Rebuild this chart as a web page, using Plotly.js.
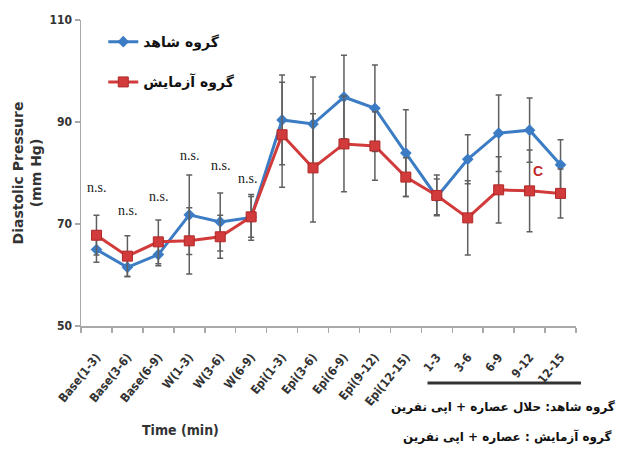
<!DOCTYPE html>
<html>
<head>
<meta charset="utf-8">
<script src="https://cdn.plot.ly/plotly-3.0.1.min.js"></script>
<style>
  html, body { margin: 0; padding: 0; background: #ffffff; }
  #chart { width: 627px; height: 463px; }
</style>
</head>
<body>
<div id="chart"></div>
<script>
// ---- data ----
const categories = ["Base(1-3)", "Base(3-6)", "Base(6-9)", "W(1-3)", "W(3-6)", "W(6-9)",
  "Epi(1-3)", "Epi(3-6)", "Epi(6-9)", "Epi(9-12)", "Epi(12-15)",
  "1-3", "3-6", "6-9", "9-12", "12-15"];
const controlName = "گروه شاهد";
const testName = "گروه آزمایش";
const controlValues = [65, 61.5, 64, 71.8, 70.4, 71.3, 90.4, 89.6, 94.9, 92.7, 83.9, 75.3, 82.7, 87.8, 88.4, 81.6];
const controlErrors = [2.5, 1.8, 2.2, 7.8, 5.7, 4.5, 8.8, 9.2, 8.2, 8.5, 8.5, 3.5, 4.8, 7.5, 6.3, 4.9];
const testValues = [67.8, 63.7, 66.5, 66.7, 67.5, 71.4, 87.5, 81.0, 85.7, 85.3, 79.2, 75.6, 71.2, 76.7, 76.5, 76.0];
const testErrors = [3.9, 4.0, 4.3, 6.5, 4.2, 4.0, 10.3, 10.6, 9.4, 6.7, 3.8, 4.0, 7.3, 6.5, 8.0, 4.8];
const nsLabel = "n.s.";
const nsCount = 6;
const sigLabel = "C";
const sigIndex = 14;
const yTicks = [50, 70, 90, 110];
const xTitle = "Time (min)";
const yTitle = "Diastolic Pressure<br>(mm Hg)";
const footnote1 = "گروه شاهد: حلال عصاره + اپی نفرین";
const footnote2 = "گروه آزمایش : عصاره + اپی نفرین";

// ---- styles ----
const blue = "#3b7cc4";
const red = "#d23b3b";
const errColor = "#5f5f5f";

const traces = [
  {
    type: "scatter", mode: "lines+markers", name: controlName,
    x: categories, y: controlValues, legendgroup: "a",
    line: { color: blue, width: 3 },
    marker: { symbol: "diamond", size: 9, color: blue },
    error_y: { type: "data", array: controlErrors, visible: true, color: errColor, thickness: 1.5, width: 3 }
  },
  {
    type: "scatter", mode: "lines+markers", name: testName,
    x: categories, y: testValues, legendgroup: "b",
    line: { color: red, width: 3 },
    marker: { symbol: "square", size: 10, color: red, line: { color: "#b02828", width: 1 } },
    error_y: { type: "data", array: testErrors, visible: true, color: errColor, thickness: 1.5, width: 3 }
  }
];

// n.s. labels placed above the higher error bar of each early point
const nsShift = [18, 16, 14, 10, 18, 6];
const annotations = [];
for (let i = 0; i < nsCount; i++) {
  const top = Math.max(controlValues[i] + controlErrors[i], testValues[i] + testErrors[i]);
  annotations.push({
    x: categories[i], y: top, xref: "x", yref: "y", text: nsLabel, showarrow: false,
    yanchor: "bottom", yshift: nsShift[i], xshift: (i === 5 ? -4 : 0),
    font: { family: "Liberation Serif, serif", size: 14, color: "#222" }
  });
}
annotations.push({
  x: categories[sigIndex], y: testValues[sigIndex], xref: "x", yref: "y", text: sigLabel, showarrow: false,
  xshift: 8, yshift: 20, font: { family: "Liberation Sans, sans-serif", size: 14, color: "#c0282a", weight: "bold" }
});
annotations.push({
  x: 0.202, y: -0.34, xref: "paper", yref: "paper", xanchor: "center", yanchor: "middle",
  text: xTitle, showarrow: false,
  font: { family: "DejaVu Sans Condensed, sans-serif", size: 14, color: "#333", weight: "bold" }
});
annotations.push({
  x: 1.083, y: -0.265, xref: "paper", yref: "paper", xanchor: "right", yanchor: "middle",
  text: footnote1, showarrow: false,
  font: { family: "DejaVu Sans, sans-serif", size: 12, color: "#111", weight: "bold" }
});
annotations.push({
  x: 1.077, y: -0.363, xref: "paper", yref: "paper", xanchor: "right", yanchor: "middle",
  text: footnote2, showarrow: false,
  font: { family: "DejaVu Sans, sans-serif", size: 12, color: "#111", weight: "bold" }
});

const layout = {
  width: 627, height: 463,
  margin: { l: 81, r: 51, t: 20, b: 137 },
  paper_bgcolor: "#ffffff", plot_bgcolor: "#ffffff",
  showlegend: true,
  legend: {
    x: 0.045, y: 0.98, xanchor: "left", yanchor: "top",
    bgcolor: "rgba(0,0,0,0)", traceorder: "grouped", tracegroupgap: 19,
    font: { family: "DejaVu Sans, sans-serif", size: 14, color: "#111", weight: "bold" }
  },
  xaxis: {
    type: "category", range: [-0.5, 15.5], tickson: "boundaries",
    showline: true, linecolor: "#a9a9a9", linewidth: 1.5,
    ticks: "outside", ticklen: 5, tickcolor: "#a9a9a9", tickwidth: 1.5,
    showgrid: false, zeroline: false, tickangle: -51, ticklabelstandoff: 18,
    tickfont: { family: "DejaVu Sans Condensed, sans-serif", size: 12, color: "#333", weight: "bold" }
  },
  yaxis: {
    range: [50, 110], tickvals: yTicks, ticktext: yTicks.map(String),
    showline: true, linecolor: "#a9a9a9", linewidth: 1.5,
    ticks: "outside", ticklen: 5, tickcolor: "#a9a9a9", tickwidth: 1.5,
    showgrid: false, zeroline: false,
    tickfont: { family: "DejaVu Sans Condensed, sans-serif", size: 12, color: "#333", weight: "bold" },
    title: { text: yTitle, standoff: 4, font: { family: "DejaVu Sans, sans-serif", size: 14, color: "#333", weight: "bold" } }
  },
  shapes: [{
    type: "line", xref: "paper", yref: "paper",
    x0: 0.70, x1: 1.01, y0: -0.186, y1: -0.186,
    line: { color: "#333", width: 3 }
  }],
  annotations: annotations
};

Plotly.newPlot("chart", traces, layout, { displayModeBar: false, staticPlot: true });
</script>
</body>
</html>
